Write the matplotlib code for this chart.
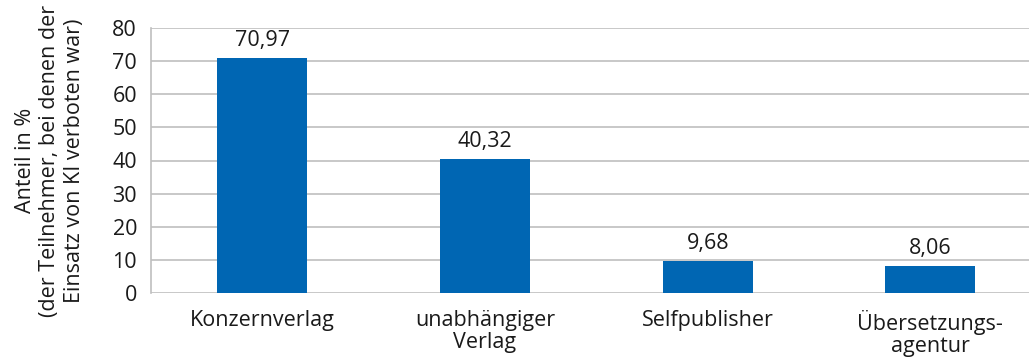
import matplotlib
matplotlib.use("Agg")
import matplotlib.pyplot as plt

categories = ["Konzernverlag", "unabhängiger\nVerlag", "Selfpublisher", "Übersetzungs-\nagentur"]
values = [70.97, 40.32, 9.68, 8.06]
value_labels = ["70,97", "40,32", "9,68", "8,06"]
yticks = [0, 10, 20, 30, 40, 50, 60, 70, 80]

plt.rcParams["font.family"] = ["Open Sans", "DejaVu Sans"]
text_color = "#1a1a1a"
bar_color = "#0066B3"
grid_color = "#BFBFBF"
fs = 15.5

fig = plt.figure(figsize=(10.29, 3.58), dpi=100)
ax = fig.add_axes([151 / 1029, 1 - 293 / 358, 890.7 / 1029, 265 / 358])

x = list(range(len(categories)))
ax.bar(x, values, width=0.404, color=bar_color, zorder=3)
for xi, v, lab in zip(x, values, value_labels):
    ax.annotate(lab, (xi, v), xytext=(0, 5), textcoords="offset points",
                ha="center", va="bottom", fontsize=fs, color=text_color)

ax.set_xlim(-0.5, 3.5)
ax.set_ylim(0, 80)
ax.set_yticks(yticks)
ax.set_xticks(x)
ax.set_xticklabels(categories, fontsize=fs, color=text_color, linespacing=1.06)
ax.tick_params(axis="y", length=0, pad=10, labelsize=fs, labelcolor=text_color)
ax.tick_params(axis="x", length=0, pad=12.5)

ax.grid(axis="y", color=grid_color, linewidth=1.2, zorder=0)
for side in ["top", "right", "bottom"]:
    ax.spines[side].set_visible(False)
ax.spines["left"].set_color(grid_color)
ax.spines["left"].set_linewidth(1.2)

ax.set_ylabel("Anteil in %\n(der Teilnehmer, bei denen der\nEinsatz von KI verboten war)",
              fontsize=fs, color=text_color, labelpad=20, linespacing=1.2)

fig.savefig("out.png", dpi=100)
